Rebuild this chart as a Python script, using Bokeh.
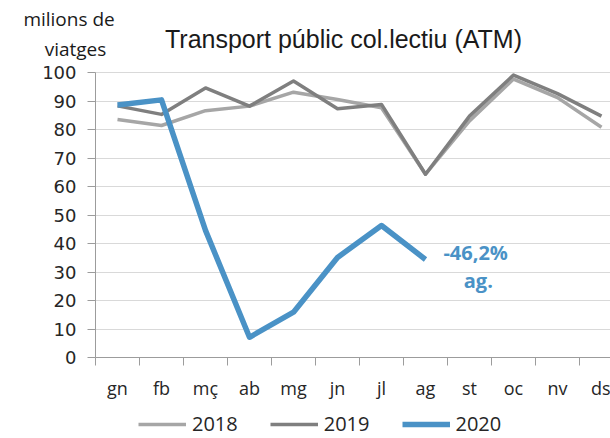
from bokeh.plotting import figure
from bokeh.models import Range1d, FixedTicker, Label, Legend, LegendItem
from bokeh.embed import file_html
from bokeh.resources import INLINE

months = ["gn", "fb", "mç", "ab", "mg", "jn", "jl", "ag", "st", "oc", "nv", "ds"]
v2018 = [83.5, 81.4, 86.6, 88.2, 93.1, 90.5, 87.6, 64.3, 83.0, 97.7, 91.2, 80.8]
v2019 = [88.3, 85.3, 94.6, 88.2, 97.0, 87.3, 88.8, 64.3, 84.7, 99.1, 92.6, 84.7]
v2020 = [88.6, 90.4, 44.6, 7.1, 15.9, 35.1, 46.3, 34.4]
y_ticks = [0, 10, 20, 30, 40, 50, 60, 70, 80, 90, 100]
title_text = "Transport públic col.lectiu (ATM)"
unit_lines = ["milions  de", "viatges"]
note_lines = ["-46,2%", "ag."]

xs = list(range(len(months)))

# whole canvas is the plot frame; axes drawn at fixed locations inside it
W, H = 610, 438
px_per_cat = 44.0
px_per_unit = 2.85
x0_px, y0_px = 117.0, 357.0   # pixel of first category / value 0
x_range = Range1d(-x0_px / px_per_cat, (W - x0_px) / px_per_cat)
y_range = Range1d(-(H - y0_px) / px_per_unit, y0_px / px_per_unit)

p = figure(width=W, height=H, x_range=x_range, y_range=y_range, title=None,
           output_backend="svg", toolbar_location=None,
           min_border=0, min_border_left=0, min_border_right=0, min_border_top=0, min_border_bottom=0)
p.outline_line_color = None
p.background_fill_color = "white"
p.border_fill_color = "white"
p.xgrid.grid_line_color = None
p.ygrid.grid_line_color = "#d9d9d9"
p.ygrid.grid_line_width = 1
p.ygrid.bounds = (0, 100)
p.ygrid.cross_bounds = (-0.5, len(months) - 0.5)
p.ygrid.ticker = FixedTicker(ticks=y_ticks)

axis_col = "#9c9c9c"
xa = p.xaxis[0]
xa.fixed_location = 0
xa.bounds = (-0.5, len(months) - 0.5)
xa.ticker = FixedTicker(ticks=xs, minor_ticks=[i - 0.5 for i in range(len(months) + 1)])
xa.major_label_overrides = {i: m for i, m in enumerate(months)}
xa.major_tick_in = 0
xa.major_tick_out = 0
xa.minor_tick_in = 0
xa.minor_tick_out = 8
xa.minor_tick_line_color = axis_col
xa.axis_line_color = axis_col
xa.major_label_standoff = 10
xa.major_label_text_font = "Open Sans"
xa.major_label_text_font_size = "18px"
xa.major_label_text_color = "#262626"

ya = p.yaxis[0]
ya.fixed_location = -0.5
ya.bounds = (0, 100)
ya.ticker = FixedTicker(ticks=y_ticks)
ya.minor_tick_line_color = None
ya.major_tick_in = 0
ya.major_tick_out = 8
ya.major_tick_line_color = axis_col
ya.axis_line_color = axis_col
ya.major_label_standoff = 11
ya.major_label_text_font = "DejaVu Sans"
ya.major_label_text_font_size = "18px"
ya.major_label_text_color = "#262626"

r18 = p.line(xs, v2018, line_color="#a6a6a6", line_width=3.5, line_join="round")
r19 = p.line(xs, v2019, line_color="#7f7f7f", line_width=3.5, line_join="round")
r20 = p.line(xs[:len(v2020)], v2020, line_color="#4a92c6", line_width=5.5, line_join="round")

p.add_layout(Label(x=5.136, y=111.9, text=title_text, text_align="center", text_baseline="middle",
                   text_font="Liberation Sans", text_font_size="25px", text_color="#1a1a1a"))
p.add_layout(Label(x=-1.045, y=118.9, text=unit_lines[0], text_align="center", text_baseline="middle",
                   text_font="Open Sans", text_font_size="19px", text_color="#1a1a1a"))
p.add_layout(Label(x=-0.955, y=108.4, text=unit_lines[1], text_align="center", text_baseline="middle",
                   text_font="Open Sans", text_font_size="19px", text_color="#1a1a1a"))
p.add_layout(Label(x=8.14, y=36.8, text=note_lines[0], text_align="center", text_baseline="middle",
                   text_font="Open Sans", text_font_style="bold", text_font_size="20px", text_color="#4a92c6"))
p.add_layout(Label(x=8.2, y=27.0, text=note_lines[1], text_align="center", text_baseline="middle",
                   text_font="Open Sans", text_font_style="bold", text_font_size="20px", text_color="#4a92c6"))

legend = Legend(items=[LegendItem(label="2018", renderers=[r18]),
                       LegendItem(label="2019", renderers=[r19]),
                       LegendItem(label="2020", renderers=[r20])],
                orientation="horizontal", location=(138, 1),
                label_text_font="Open Sans", label_text_font_size="20px", label_text_color="#262626",
                glyph_width=48, label_standoff=6, spacing=32, padding=2, margin=0,
                border_line_color=None, background_fill_alpha=0)
p.add_layout(legend, "center")

open("out.html", "w").write(file_html(p, INLINE))
